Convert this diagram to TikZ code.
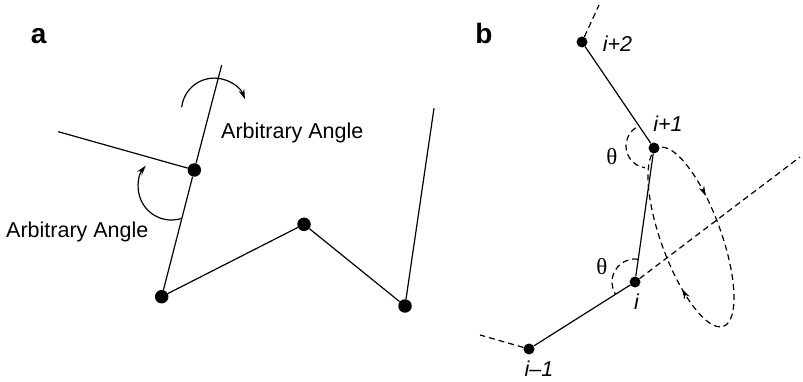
\documentclass[tikz,border=0pt]{standalone}
\usepackage{fontspec}
\setmainfont{Liberation Sans}
\newfontfamily\thetafont{Liberation Serif}
\usetikzlibrary{arrows.meta,decorations.markings}

\tikzset{
  dot/.style={circle, fill=black, inner sep=0pt, minimum size=13.5pt},
  smalldot/.style={dot, minimum size=11pt},
  bond/.style={line width=1.2pt},
  guide/.style={line width=1.2pt, dash pattern=on 6pt off 4pt},
  lbl/.style={font=\fontsize{21.5}{24}\selectfont, inner sep=0pt, anchor=base west},
  idx/.style={font=\fontsize{21.5}{24}\selectfont\itshape, inner sep=0pt, anchor=base},
  ang/.style={font=\fontsize{23}{26}\selectfont\thetafont, inner sep=0pt},
  panel/.style={font=\fontsize{28}{30}\selectfont\bfseries, inner sep=0pt, anchor=base},
}

\begin{document}
\begin{tikzpicture}[x=1pt, y=1pt, >={Stealth[length=10pt,width=6pt]}]
\useasboundingbox (0,0) rectangle (803,-382);

% Teil a:
\node[panel] (la) at (38.7,-44) {a};
\node[dot] (p0) at (161.7,-296.7) {};
\node[dot] (p1) at (194.3,-170) {};
\node[dot] (p2) at (304,-224.3) {};
\node[dot] (p3) at (405,-306) {};
\coordinate (aleft) at (58.3,-131.7);
\coordinate (atop) at (221.7,-65);
\coordinate (aright) at (434,-108.3);
\draw[bond] (aleft) -- (p1); % Seitenast
\draw[bond] (atop) -- (p1) -- (p0) -- (p2) -- (p3) -- (aright); % Kette
% Drehpfeile:
\coordinate (rotup) at (214.3,-110.9);
\coordinate (rotlow) at (171.4,-186.8);
\draw[bond, ->] ([shift={(173.7:32.8)}]rotup) arc[start angle=173.7, end angle=20.7, radius=32.8pt];
\draw[bond, ->] ([shift={(-71.8:33.2)}]rotlow) arc[start angle=-71.8, end angle=-219.4, radius=33.2pt];
\node[lbl] (angup) at (221,-139) {Arbitrary Angle};
\node[lbl] (anglow) at (6,-237) {Arbitrary Angle};

% Teil b:
\node[panel] (lb) at (484,-44) {b};
\coordinate (ec) at (691,-237);
% Rotationsellipse:
\draw[guide, rotate around={-70:(ec)}, postaction={decorate},
  decoration={markings,
    mark=at position 0.33 with {\arrowreversed{Stealth[length=10pt,width=6pt]}},
    mark=at position 0.86 with {\arrowreversed{Stealth[length=10pt,width=6pt]}}}]
  (ec) ellipse [x radius=95pt, y radius=30pt];
\node[smalldot] (q2) at (582,-42) {};
\node[smalldot] (q1) at (654,-148) {};
\node[smalldot] (qi) at (635,-282) {};
\node[smalldot] (q0) at (529,-349) {};
\coordinate (q2end) at (599,-5);
\coordinate (q0end) at (480,-335);
\coordinate (axisend) at (800,-157);
\draw[bond] (q2) -- (q1) -- (qi) -- (q0);
\draw[guide] (q2) -- (q2end);
\draw[guide] (q0) -- (q0end);
\draw[guide] (qi) -- (axisend); % Drehachse
% Winkelboegen:
\coordinate (c1) at (648,-146);
\draw[guide] ([shift={(124:22)}]c1) arc[start angle=124, end angle=262, radius=22pt];
\draw[guide] ([shift={(82:23)}]qi.center) arc[start angle=82, end angle=212, radius=23pt];
\node[ang] (th1) at (612,-157) {θ};
\node[ang] (th0) at (602,-267) {θ};
% Indizes:
\node[idx] (n2) at (617.5,-52) {i+2};
\node[idx] (n1) at (668,-132) {i+1};
\node[idx] (ni) at (636.5,-309) {i};
\node[idx] (n0) at (539,-376) {i–1};
\end{tikzpicture}
\end{document}
